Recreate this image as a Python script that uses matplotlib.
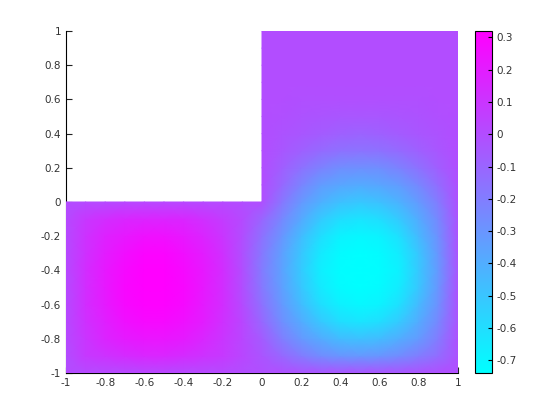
import matplotlib
matplotlib.use("Agg")
import matplotlib.pyplot as plt
import numpy as np

# grid nodes of the lower strip (-1<=x<=1, -1<=y<=0)
x_low = [-1.0, -0.9, -0.8, -0.7, -0.6, -0.5, -0.4, -0.3, -0.2, -0.1, 0.0,
         0.1, 0.2, 0.3, 0.4, 0.5, 0.6, 0.7, 0.8, 0.9, 1.0]
y_low = [-1.0, -0.9, -0.8, -0.7, -0.6, -0.5, -0.4, -0.3, -0.2, -0.1, 0.0]
u_low = [
    [0, 0.01, 0.01, 0.01, 0.02, 0.02, 0.01, 0.01, 0.01, 0, -0.01, -0.01, -0.02, -0.03, -0.03, -0.03, -0.03, -0.03, -0.02, -0.01, 0],
    [0, 0.08, 0.11, 0.14, 0.16, 0.16, 0.14, 0.11, 0.08, 0.03, -0.03, -0.11, -0.19, -0.26, -0.30, -0.31, -0.30, -0.26, -0.20, -0.13, -0.02],
    [0.01, 0.10, 0.17, 0.21, 0.23, 0.23, 0.21, 0.16, 0.10, 0.03, -0.06, -0.20, -0.31, -0.39, -0.46, -0.48, -0.46, -0.40, -0.32, -0.19, -0.01],
    [0.01, 0.12, 0.19, 0.25, 0.28, 0.28, 0.25, 0.20, 0.12, 0.03, -0.11, -0.27, -0.39, -0.51, -0.60, -0.63, -0.60, -0.52, -0.39, -0.24, -0.02],
    [0.01, 0.13, 0.21, 0.28, 0.31, 0.31, 0.28, 0.21, 0.13, 0.01, -0.15, -0.31, -0.46, -0.60, -0.68, -0.71, -0.69, -0.61, -0.45, -0.28, -0.02],
    [0.01, 0.13, 0.22, 0.29, 0.32, 0.32, 0.29, 0.22, 0.13, 0.00, -0.18, -0.34, -0.50, -0.65, -0.72, -0.74, -0.72, -0.66, -0.50, -0.30, -0.02],
    [0.01, 0.13, 0.22, 0.28, 0.32, 0.32, 0.28, 0.22, 0.13, 0.00, -0.19, -0.35, -0.52, -0.67, -0.73, -0.74, -0.73, -0.68, -0.51, -0.31, -0.03],
    [0.01, 0.12, 0.20, 0.26, 0.30, 0.30, 0.26, 0.20, 0.12, -0.01, -0.18, -0.34, -0.50, -0.65, -0.72, -0.74, -0.72, -0.66, -0.50, -0.30, -0.02],
    [0.01, 0.11, 0.18, 0.22, 0.25, 0.25, 0.22, 0.17, 0.10, 0.00, -0.15, -0.30, -0.46, -0.60, -0.69, -0.71, -0.69, -0.61, -0.45, -0.28, -0.02],
    [0.01, 0.09, 0.13, 0.16, 0.17, 0.17, 0.16, 0.12, 0.07, 0.01, -0.10, -0.24, -0.38, -0.52, -0.60, -0.63, -0.60, -0.52, -0.39, -0.24, -0.02],
    [0, 0.01, 0.01, 0.02, 0.02, 0.02, 0.02, 0.01, 0.01, 0.00, -0.01, -0.17, -0.31, -0.41, -0.48, -0.51, -0.48, -0.42, -0.32, -0.19, -0.01],
]

# grid nodes of the upper right square (0<=x<=1, 0<=y<=1)
x_up = [0.0, 0.1, 0.2, 0.3, 0.4, 0.5, 0.6, 0.7, 0.8, 0.9, 1.0]
y_up = [0.0, 0.1, 0.2, 0.3, 0.4, 0.5, 0.6, 0.7, 0.8, 0.9, 1.0]
u_up = [
    [-0.01, -0.17, -0.31, -0.41, -0.48, -0.51, -0.48, -0.42, -0.32, -0.19, -0.01],
    [0, -0.11, -0.23, -0.33, -0.37, -0.39, -0.37, -0.33, -0.24, -0.13, -0.01],
    [0, -0.07, -0.15, -0.22, -0.27, -0.28, -0.27, -0.22, -0.15, -0.07, 0],
    [0, -0.04, -0.08, -0.12, -0.15, -0.16, -0.15, -0.12, -0.08, -0.04, 0],
    [0, -0.02, -0.04, -0.06, -0.08, -0.09, -0.08, -0.06, -0.04, -0.02, 0],
    [0, -0.01, -0.02, -0.03, -0.04, -0.04, -0.04, -0.03, -0.02, -0.01, 0],
    [0, 0, -0.01, -0.01, -0.01, -0.01, -0.01, -0.01, -0.01, 0, 0],
    [0, 0, 0, 0, 0, 0, 0, 0, 0, 0, 0],
    [0, 0, 0, 0, 0, 0, 0, 0, 0, 0, 0],
    [0, 0, 0, 0, 0, 0, 0, 0, 0, 0, 0],
    [0, 0, 0, 0, 0, 0, 0, 0, 0, 0, 0],
]

vmin, vmax = -0.74, 0.32
ticks = [-1, -0.8, -0.6, -0.4, -0.2, 0, 0.2, 0.4, 0.6, 0.8, 1]
tick_labels = ["-1", "-0.8", "-0.6", "-0.4", "-0.2", "0", "0.2", "0.4", "0.6", "0.8", "1"]
cb_ticks = [-0.7, -0.6, -0.5, -0.4, -0.3, -0.2, -0.1, 0, 0.1, 0.2, 0.3]
cb_labels = ["-0.7", "-0.6", "-0.5", "-0.4", "-0.3", "-0.2", "-0.1", "0", "0.1", "0.2", "0.3"]

plt.rcParams["font.family"] = ["DejaVu Sans"]
plt.rcParams["font.size"] = 7.5

fig = plt.figure(figsize=(5.6, 4.2), dpi=100)
ax = fig.add_axes([66 / 560, 47 / 420, 392 / 560, 342 / 420])
cax = fig.add_axes([475 / 560, 47 / 420, 17 / 560, 342 / 420])

m = ax.pcolormesh(np.array(x_low), np.array(y_low), np.array(u_low), shading="gouraud",
                  cmap="cool", vmin=vmin, vmax=vmax, zorder=3)
ax.pcolormesh(np.array(x_up), np.array(y_up), np.array(u_up), shading="gouraud",
              cmap="cool", vmin=vmin, vmax=vmax, zorder=3)

ax.set_xlim(-1, 1)
ax.set_ylim(-1, 1)
ax.set_xticks(ticks)
ax.set_xticklabels(tick_labels)
ax.set_yticks(ticks)
ax.set_yticklabels(tick_labels)
ax.tick_params(direction="in", length=4, width=0.8, colors="#222222", labelcolor="#333333")
for side in ("top", "right"):
    ax.spines[side].set_visible(False)

cb = fig.colorbar(m, cax=cax)
cb.set_ticks(cb_ticks)
cb.set_ticklabels(cb_labels)
cb.ax.tick_params(direction="in", length=3, width=0.8, labelcolor="#333333")
cb.outline.set_linewidth(0.8)

fig.savefig("out.png", dpi=100)
